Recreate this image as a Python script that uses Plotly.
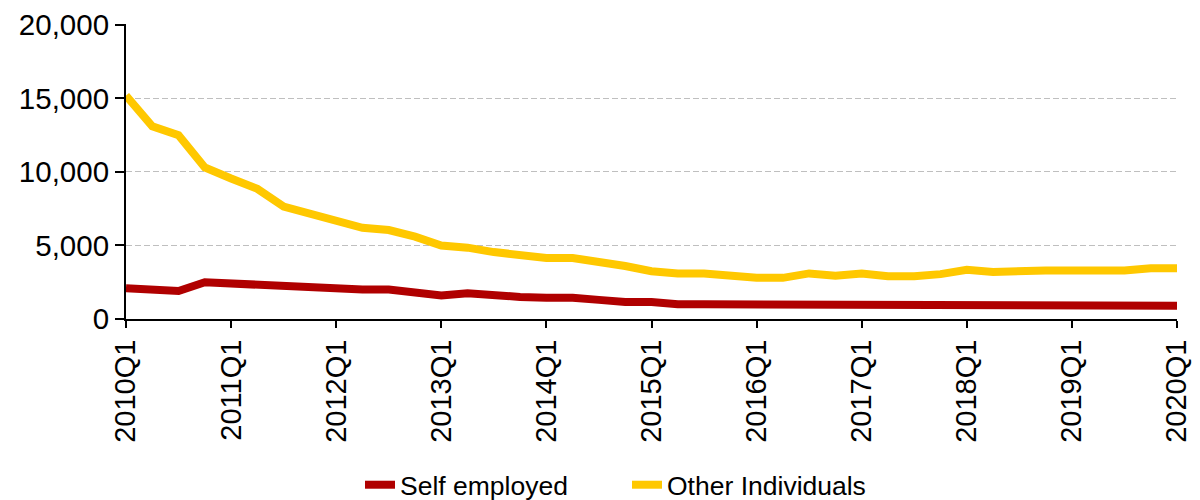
import plotly.graph_objects as go

quarters = [f"{y}Q{q}" for y in range(2010, 2021) for q in range(1, 5)][:41]
tick_labels = [f"{y}Q1" for y in range(2010, 2021)]
y_ticks = [0, 5000, 10000, 15000, 20000]

self_employed = [2100, 2000, 1900, 2500, 2400, 2400, 2250, 2100, 2100, 2000,
                 2000, 1850, 1600, 1750, 1600, 1500, 1450, 1450, 1300, 1150,
                 1150, 1000, 1000, 1000, 900, 1000, 1000, 1000, 1000, 900,
                 900, 1000, 1000, 1000, 1000, 1000, 900, 1000, 900, 900, 900]

other_individuals = [15200, 13100, 12500, 10300, 9550, 8850, 7650, 7150, 6750, 6200,
                     6050, 5600, 5000, 4850, 4550, 4400, 4150, 4150, 3900, 3600,
                     3250, 3100, 3100, 2950, 2800, 2800, 3100, 2950, 3100, 2900,
                     2900, 3050, 3350, 3200, 3300, 3300, 3300, 3300, 3300, 3450, 3450]

FONT = "Liberation Sans, Arial, sans-serif"

fig = go.Figure()
fig.add_trace(go.Scatter(x=quarters, y=self_employed, mode="lines", name="Self employed",
                         line=dict(color="#B00000", width=8)))
fig.add_trace(go.Scatter(x=quarters, y=other_individuals, mode="lines", name="Other Individuals",
                         line=dict(color="#FFC800", width=8)))

fig.update_layout(
    width=1192, height=492,
    margin=dict(l=118, r=23, t=16, b=181, autoexpand=False),
    paper_bgcolor="white", plot_bgcolor="white",
    font=dict(family=FONT, size=28, color="#000000"),
    showlegend=True,
    legend=dict(orientation="h", x=0.4767, xanchor="center",
                yref="container", y=0.0305, yanchor="middle",
                entrywidth=222, entrywidthmode="pixels",
                font=dict(family=FONT, size=26.5, color="#000000"),
                bgcolor="rgba(0,0,0,0)"),
    xaxis=dict(
        type="category", range=[0, 40], automargin=False,
        tickmode="array", tickvals=tick_labels, ticktext=tick_labels,
        tickangle=-90, ticks="outside", ticklen=7, tickwidth=1.5, tickcolor="#000000",
        showline=True, linecolor="#000000", linewidth=2,
        showgrid=False, zeroline=False, ticklabeloverflow="allow",
        tickfont=dict(family=FONT, size=29, color="#000000"),
    ),
    yaxis=dict(
        range=[0, 20060], tickmode="array", tickvals=y_ticks,
        tickformat=",d", automargin=False, ticklabeloverflow="allow",
        ticks="outside", ticklen=9, tickwidth=1.5, tickcolor="#000000",
        showline=True, linecolor="#000000", linewidth=2,
        showgrid=True, gridcolor="#BFBFBF", griddash="6px,3px", gridwidth=1.2,
        zeroline=False,
        tickfont=dict(family=FONT, size=29.5, color="#000000"),
    ),
)

fig.write_html("out.html")
